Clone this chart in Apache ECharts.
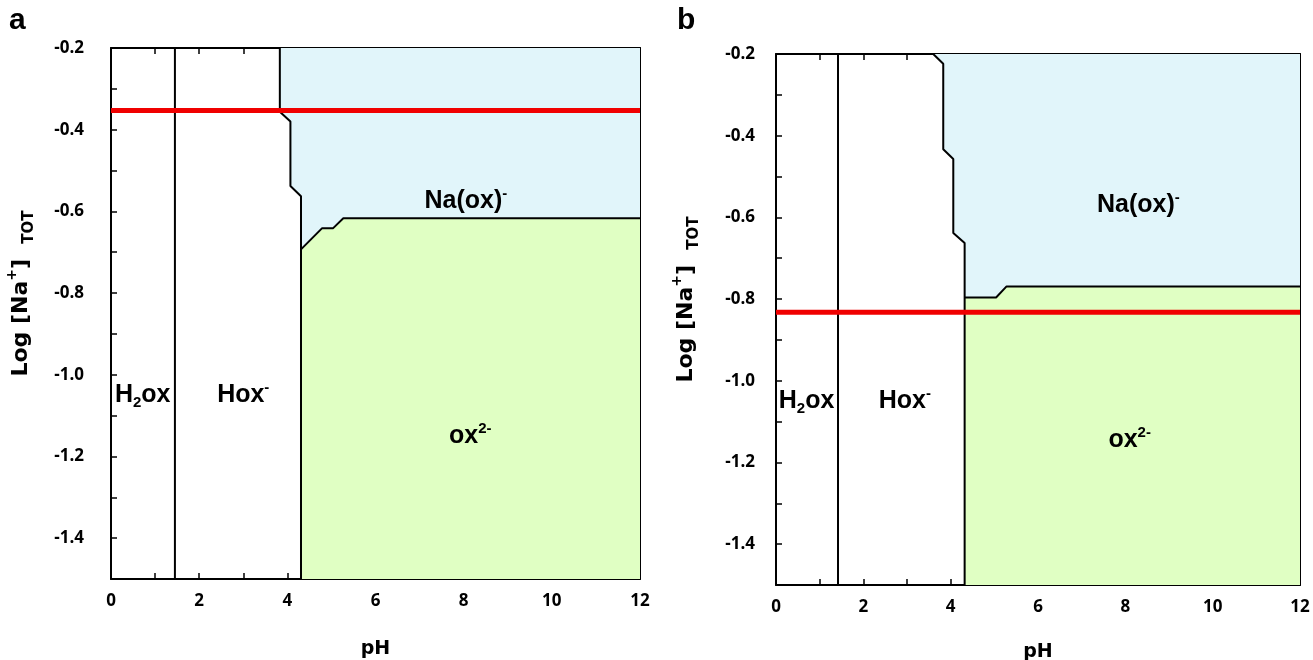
<!DOCTYPE html>
<html><head><meta charset="utf-8">
<script src="https://cdn.jsdelivr.net/npm/echarts@6/dist/echarts.min.js"></script>
<style>html,body{margin:0;padding:0;background:#fff}#c{width:1313px;height:660px}</style>
</head><body><div id="c"></div>
<script>
// ---- data (pH, log[Na+]) ----
const h2oxBoundaryA = [[1.45,-1.5],[1.45,-0.2]];
const hoxBoundaryA = [[3.83,-0.2],[3.83,-0.356],[4.07,-0.38],[4.07,-0.538],[4.31,-0.563],[4.31,-1.5]];
const naoxBoundaryA = [[4.31,-0.693],[4.79,-0.641],[5.04,-0.641],[5.27,-0.617],[12,-0.617]];
const redLineA = [[0,-0.353],[12,-0.353]];

const h2oxBoundaryB = [[1.42,-1.5],[1.42,-0.2]];
const hoxBoundaryB = [[3.60,-0.2],[3.83,-0.224],[3.83,-0.433],[4.06,-0.457],[4.06,-0.638],[4.32,-0.663],[4.32,-1.5]];
const naoxBoundaryB = [[4.32,-0.796],[5.04,-0.796],[5.28,-0.769],[12,-0.769]];
const redLineB = [[0,-0.832],[12,-0.832]];

const regionLabelsA = [
  {name:'H2ox', pos:[0.72,-1.05], text:'{b|H}{sub|2}{b|ox}'},
  {name:'Hox-', pos:[3.0,-1.05], text:'{b|Hox}{sup|-}'},
  {name:'Na(ox)-', pos:[8.05,-0.575], text:'{b|Na(ox)}{sup|-}'},
  {name:'ox2-', pos:[8.15,-1.15], text:'{b|ox}{sup|2-}'}
];
const regionLabelsB = [
  {name:'H2ox', pos:[0.7,-1.05], text:'{b|H}{sub|2}{b|ox}'},
  {name:'Hox-', pos:[2.95,-1.05], text:'{b|Hox}{sup|-}'},
  {name:'Na(ox)-', pos:[8.3,-0.57], text:'{b|Na(ox)}{sup|-}'},
  {name:'ox2-', pos:[8.1,-1.145], text:'{b|ox}{sup|2-}'}
];
const xRange = [0, 12];
const yRange = [-1.5, -0.2];

// ---- derived polygons ----
const blueA = hoxBoundaryA.slice(0,5).concat(naoxBoundaryA, [[12,-0.2]]);
const greenA = naoxBoundaryA.concat([[12,-1.5],[4.31,-1.5]]);
const blueB = hoxBoundaryB.slice(0,6).concat(naoxBoundaryB, [[12,-0.2]]);
const greenB = naoxBoundaryB.concat([[12,-1.5],[4.32,-1.5]]);

const BLUE = '#E1F5FA', GREEN = '#E0FFC3';
const TICKFONT = 'Open Sans';
const TITLEFONT = 'DejaVu Sans';
const LABFONT = 'Liberation Sans';

function xAxisDef(grid, pos, showLabel, showName, gap){
  return {
    type:'value', gridIndex:grid, position:pos, min:xRange[0], max:xRange[1], interval:1,
    axisLine:{show:true, onZero:false, lineStyle:{color:'#000', width:2}},
    axisTick:{show:true, inside:true, length:6, lineStyle:{color:'#000', width:1.5}},
    splitLine:{show:false},
    axisLabel:{show:showLabel, margin:14, fontFamily:TICKFONT, fontWeight:'bold', fontSize:17, color:'#000',
      formatter:v=> (Math.round(v)%2===0 ? String(Math.round(v)) : '')},
    name: showName ? 'pH' : '', nameLocation:'middle', nameGap:gap || 58,
    nameTextStyle:{fontFamily:TITLEFONT, fontWeight:'bold', fontSize:19, color:'#000'}
  };
}
function yAxisDef(grid, pos, showLabel, showName, margin){
  return {
    type:'value', gridIndex:grid, position:pos, min:yRange[0], max:yRange[1], interval:0.1,
    axisLine:{show:true, onZero:false, lineStyle:{color:'#000', width:2}},
    axisTick:{show:true, inside:true, length:6, lineStyle:{color:'#000', width:1.5}},
    splitLine:{show:false},
    axisLabel:{show:showLabel, margin:margin, fontFamily:TICKFONT, fontWeight:'bold', fontSize:17, color:'#000',
      formatter:v=>{const k=Math.round(v*10); return (k%2===0) ? (k/10).toFixed(1) : '';}},
    name: showName ? '{t|Log [Na}{sup|+}{t|]  }{sub|TOT}' : '', nameLocation:'middle', nameGap:74, nameRotate:90,
    nameTextStyle:{padding:[0,0,0,40], rich:{
      t:{fontFamily:TITLEFONT, fontWeight:'bold', fontSize:22, color:'#000', lineHeight:32},
      sup:{fontFamily:TITLEFONT, fontWeight:'bold', fontSize:14, color:'#000', lineHeight:16, verticalAlign:'top'},
      sub:{fontFamily:TITLEFONT, fontWeight:'bold', fontSize:15, color:'#000', lineHeight:12, verticalAlign:'bottom'}
    }}
  };
}
function polySeries(poly, fill, ax){
  return {type:'custom', xAxisIndex:ax, yAxisIndex:ax, data:[[0,0]], silent:true, z:1,
    renderItem:(p, api)=>({type:'polygon', shape:{points: poly.map(pt=>api.coord(pt))}, style:{fill:fill, stroke:null}})};
}
function lineSeries(data, color, width, ax, z){
  return {type:'line', xAxisIndex:ax, yAxisIndex:ax, data:data, symbol:'none', silent:true, z:z,
    lineStyle:{color:color, width:width}, animation:false};
}
const labRich = {
  b:{fontFamily:LABFONT, fontWeight:'bold', fontSize:25, color:'#000', lineHeight:30},
  sup:{fontFamily:LABFONT, fontWeight:'bold', fontSize:15, color:'#000', lineHeight:17, verticalAlign:'top'},
  sub:{fontFamily:LABFONT, fontWeight:'bold', fontSize:15, color:'#000', lineHeight:15, verticalAlign:'bottom'}
};
function labelSeries(labels, ax){
  return {type:'scatter', xAxisIndex:ax, yAxisIndex:ax, symbolSize:0, silent:true, z:5,
    itemStyle:{opacity:1},
    data: labels.map(l=>({value:l.pos, name:l.name,
      label:{show:true, position:'inside', color:'#000', opacity:1, textBorderWidth:0, formatter:l.text, rich:labRich}}))};
}

const chart = echarts.init(document.getElementById('c'), null, {renderer:'canvas'});
chart.setOption({
  animation:false,
  backgroundColor:'#fff',
  grid:[
    {left:111, right:673, top:48, bottom:81, containLabel:false, outerBoundsMode:'none'},
    {left:776, right:13, top:54, bottom:75, containLabel:false, outerBoundsMode:'none'}
  ],
  xAxis:[xAxisDef(0,'bottom',true,true,61), xAxisDef(0,'top',false,false), xAxisDef(1,'bottom',true,true,58), xAxisDef(1,'top',false,false)],
  yAxis:[yAxisDef(0,'left',true,true,27), yAxisDef(0,'right',false,false,0), yAxisDef(1,'left',true,true,21), yAxisDef(1,'right',false,false,0)],
  graphic:[
    {type:'text', left:9, top:6, style:{text:'a', font:'bold 30px "Liberation Sans"', fill:'#000'}},
    {type:'text', left:677, top:6, style:{text:'b', font:'bold 30px "Liberation Sans"', fill:'#000'}}
  ],
  series:[
    polySeries(blueA, BLUE, 0), polySeries(greenA, GREEN, 0),
    lineSeries(h2oxBoundaryA,'#000',2,0,3), lineSeries(hoxBoundaryA,'#000',2,0,3), lineSeries(naoxBoundaryA,'#000',2,0,3),
    lineSeries(redLineA,'#F00000',5,0,4),
    labelSeries(regionLabelsA,0),
    polySeries(blueB, BLUE, 2), polySeries(greenB, GREEN, 2),
    lineSeries(h2oxBoundaryB,'#000',2,2,3), lineSeries(hoxBoundaryB,'#000',2,2,3), lineSeries(naoxBoundaryB,'#000',2,2,3),
    lineSeries(redLineB,'#F00000',5,2,4),
    labelSeries(regionLabelsB,2)
  ]
});
</script></body></html>
